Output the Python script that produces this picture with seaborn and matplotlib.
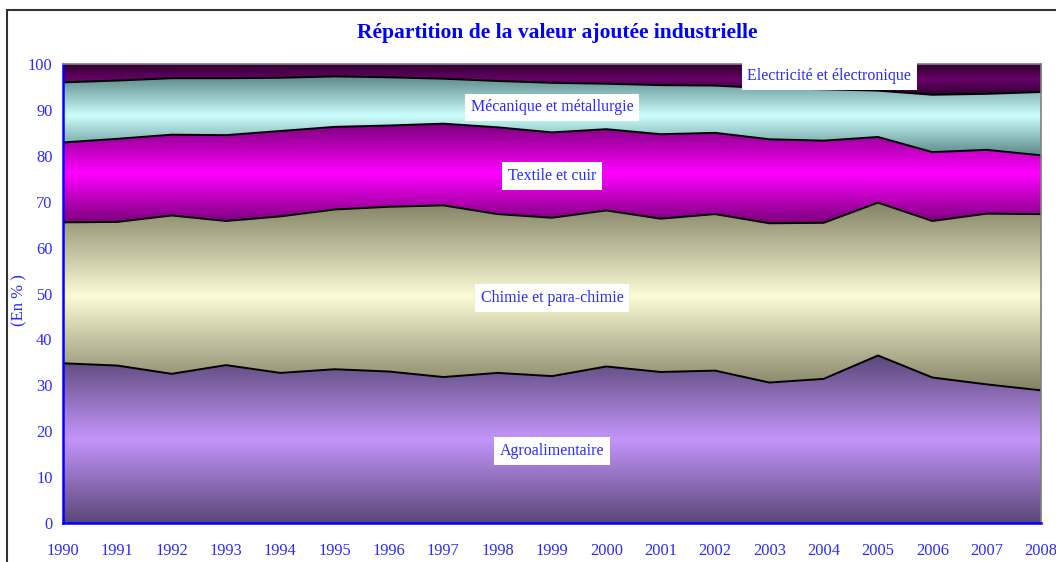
import numpy as np
import pandas as pd
import matplotlib
matplotlib.use("Agg")
import matplotlib.pyplot as plt
import seaborn as sns
from matplotlib.colors import LinearSegmentedColormap
from matplotlib.patches import Rectangle

# Data (cumulative boundaries, in %)
years = list(range(1990, 2009))
agro_top = [34.8, 34.3, 32.5, 34.4, 32.7, 33.5, 33.0, 31.8, 32.7, 32.0,
            34.1, 32.9, 33.2, 30.6, 31.4, 36.5, 31.7, 30.2, 28.9]
chimie_top = [65.5, 65.6, 67.0, 65.8, 66.8, 68.3, 68.9, 69.2, 67.3, 66.5,
              68.1, 66.3, 67.3, 65.3, 65.4, 69.8, 65.8, 67.4, 67.3]
textile_top = [82.9, 83.7, 84.6, 84.5, 85.4, 86.3, 86.6, 87.0, 86.2, 85.1,
               85.8, 84.7, 85.0, 83.6, 83.3, 84.1, 80.8, 81.3, 80.1]
meca_top = [96.0, 96.4, 96.9, 96.9, 97.0, 97.3, 97.1, 96.8, 96.3, 95.9,
            95.7, 95.4, 95.3, 94.7, 94.5, 94.2, 93.3, 93.5, 93.9]

labels = ["Agroalimentaire", "Chimie et para-chimie", "Textile et cuir",
          "Mécanique et métallurgie", "Electricité et électronique"]

agro = np.array(agro_top)
chimie = np.array(chimie_top) - np.array(agro_top)
textile = np.array(textile_top) - np.array(chimie_top)
meca = np.array(meca_top) - np.array(textile_top)
elec = 100 - np.array(meca_top)

# gradient colours: (edge, centre)
grad_colors = [("#5a4778", "#c495fa"),
               ("#838265", "#fbfbd6"),
               ("#7a007a", "#ff00ff"),
               ("#5c8888", "#ccffff"),
               ("#300030", "#680068")]

sns.set_theme(style="white")
plt.rcParams['font.family'] = ['Liberation Serif', 'DejaVu Serif']

fig = plt.figure(figsize=(10.56, 5.62), dpi=100)
ax = fig.add_axes([63 / 1056, 1 - 523 / 562, (1041 - 63) / 1056, (523 - 64) / 562])

series = [agro, chimie, textile, meca, elec]
lower = np.zeros(len(years))
for vals, (edge, centre) in zip(series, grad_colors):
    upper = lower + vals
    poly = ax.fill_between(years, lower, upper, color=centre, lw=0, zorder=1)
    cmap = LinearSegmentedColormap.from_list("g", [edge, centre, edge])
    y0, y1 = lower.min(), upper.max()
    grad = np.linspace(0, 1, 256).reshape(-1, 1)
    im = ax.imshow(grad, cmap=cmap, aspect="auto", origin="lower",
                   extent=[years[0], years[-1], y0, y1], zorder=2)
    im.set_clip_path(poly.get_paths()[0], transform=ax.transData)
    lower = upper

# boundary lines with seaborn
bounds = pd.DataFrame({"year": years, "b1": agro_top, "b2": chimie_top,
                       "b3": textile_top, "b4": meca_top})
long_df = bounds.melt(id_vars="year", var_name="limite", value_name="valeur")
sns.lineplot(data=long_df, x="year", y="valeur", hue="limite",
             palette=["black"] * 4, linewidth=1.4, legend=False, ax=ax, zorder=3)

tick_blue = "#2a2aff"
ax.set_xlim(1990, 2008)
ax.set_ylim(0, 100)
ax.set_xticks(years)
ax.set_yticks(range(0, 101, 10))
ax.set_xlabel("")
ax.set_ylabel("(En % )", color=tick_blue, fontsize=12)
ax.yaxis.set_label_coords((27 - 63) / 978, (523 - 300) / 459)
ax.tick_params(axis="both", colors="blue", labelcolor=tick_blue, labelsize=11.8,
               direction="inout", length=7, width=1.2)
ax.tick_params(axis="x", pad=11)
ax.tick_params(axis="y", pad=4)
for s in ["left", "bottom"]:
    ax.spines[s].set_color("blue")
    ax.spines[s].set_linewidth(1.8)
for s in ["top", "right"]:
    ax.spines[s].set_color("#808080")
    ax.spines[s].set_linewidth(1.2)
for s in ax.spines.values():
    s.set_zorder(5)

box = dict(facecolor="white", edgecolor="none", boxstyle="square,pad=0.35")
label_pos = [(1999, 15.7), (1999, 49.0), (1999, 75.6), (1999, 90.6), (2004.1, 97.4)]
for lab, (x, y) in zip(labels, label_pos):
    ax.text(x, y, lab, color=tick_blue, fontsize=11.5, ha="center", va="center",
            bbox=box, zorder=6)

fig.text(557 / 1056, 1 - 33 / 562, "Répartition de la valeur ajoutée industrielle",
         color="blue", fontsize=15.5, fontweight="bold", ha="center", va="center")

# outer chart frame
fig.add_artist(Rectangle((7 / 1056, -0.1), 1.2, 1 - 10 / 562 + 0.1,
                         transform=fig.transFigure, fill=False,
                         edgecolor="#333333", linewidth=1.5))

fig.savefig("out.png", dpi=100)
